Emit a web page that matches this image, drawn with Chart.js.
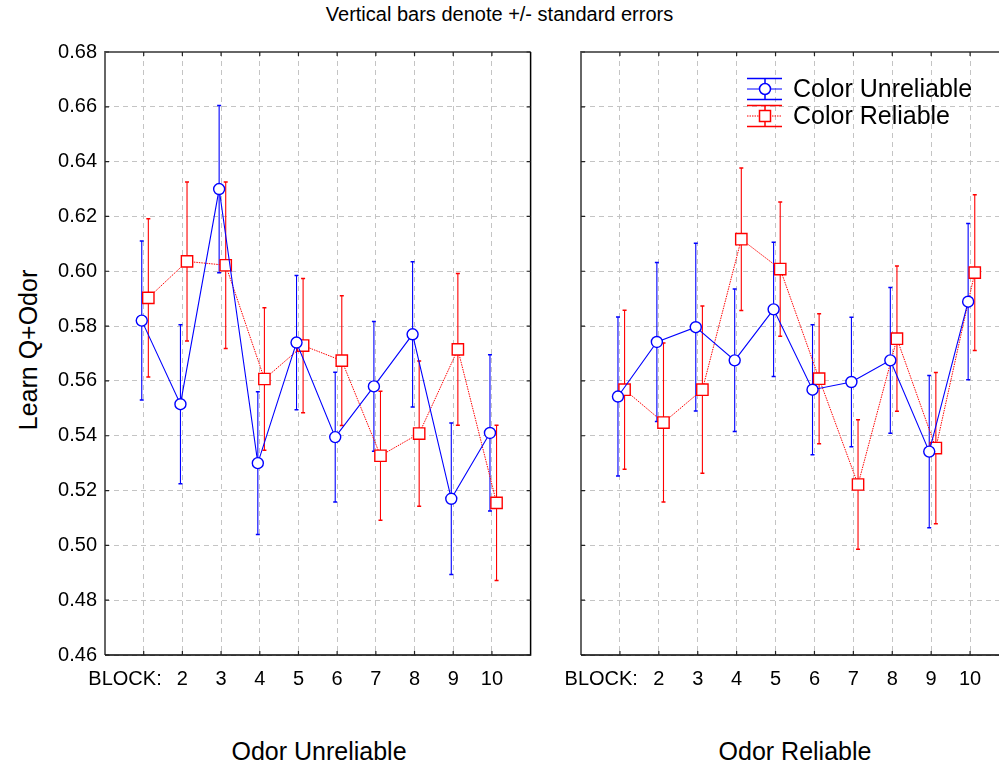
<!DOCTYPE html>
<html lang="en">
<head>
<meta charset="UTF-8">
<title>Learn Q+Odor</title>
<script src="https://cdn.jsdelivr.net/npm/chart.js"></script>
<style>
  body { margin: 0; width: 999px; height: 769px; overflow: hidden; background: #fff; position: relative;
         font-family: "Liberation Sans", Arial, sans-serif; color: #000; }
  canvas { position: absolute; top: 0; }
  #leftChart { left: 0; }
  #rightChart { left: 560px; }
  .txt { position: absolute; white-space: nowrap; }
  #title { left: 0; width: 999px; top: 3px; text-align: center; font-size: 20px; line-height: 23px; }
  #ytitle { left: 28px; top: 350px; font-size: 25px; transform: translate(-50%, -50%) rotate(-90deg); }
  .panel { top: 737px; font-size: 25px; transform: translateX(-50%); }
</style>
</head>
<body>

<div id="title" class="txt">Vertical bars denote +/- standard errors</div>
<div id="ytitle" class="txt">Learn Q+Odor</div>
<div class="txt panel" style="left:319px">Odor Unreliable</div>
<div class="txt panel" style="left:795px">Odor Reliable</div>

<canvas id="leftChart" width="540" height="769"></canvas>
<canvas id="rightChart" width="460" height="769"></canvas>

<script>
// categories and tick labels
var blocks = [1, 2, 3, 4, 5, 6, 7, 8, 9, 10];
var blockLabels = ['BLOCK:', '2', '3', '4', '5', '6', '7', '8', '9', '10'];
var yTicks = [0.46, 0.48, 0.50, 0.52, 0.54, 0.56, 0.58, 0.60, 0.62, 0.64, 0.66, 0.68];
var seriesNames = ['Color Unreliable', 'Color Reliable'];

// Odor Unreliable panel
var odorUnrel_colorUnrel = [0.582, 0.5515, 0.630, 0.530, 0.574, 0.5395, 0.558, 0.577, 0.517, 0.541];
var odorUnrel_colorUnrel_se = [0.029, 0.029, 0.0305, 0.026, 0.0245, 0.0237, 0.0237, 0.0265, 0.0276, 0.0285];
var odorUnrel_colorRel = [0.5903, 0.6036, 0.6022, 0.5607, 0.5729, 0.5674, 0.5327, 0.5408, 0.5715, 0.5155];
var odorUnrel_colorRel_se = [0.0289, 0.029, 0.0304, 0.026, 0.0245, 0.0237, 0.0235, 0.0265, 0.0277, 0.0283];

// Odor Reliable panel
var odorRel_colorUnrel = [0.5543, 0.5742, 0.5796, 0.5675, 0.5861, 0.5568, 0.5596, 0.5675, 0.5342, 0.5889];
var odorRel_colorUnrel_se = [0.029, 0.029, 0.0306, 0.026, 0.0245, 0.0237, 0.0236, 0.0266, 0.0278, 0.0285];
var odorRel_colorRel = [0.5568, 0.5448, 0.5568, 0.6117, 0.6008, 0.5608, 0.5222, 0.5754, 0.5355, 0.5995];
var odorRel_colorRel_se = [0.029, 0.029, 0.0305, 0.026, 0.0245, 0.0237, 0.0236, 0.0265, 0.0276, 0.0284];

var BLUE = '#0000ff';
var RED = '#ff0000';
var FONT = '"Liberation Sans", Arial, sans-serif';

function toPoints(values, shift) {
  return values.map(function (v, i) { return { x: blocks[i] + shift, y: v }; });
}

// error bars, drawn under the lines and markers
var errorBars = {
  id: 'errorBars',
  beforeDatasetsDraw: function (chart) {
    var ctx = chart.ctx;
    var yScale = chart.scales.y;
    chart.data.datasets.forEach(function (ds, di) {
      var meta = chart.getDatasetMeta(di);
      ctx.save();
      ctx.strokeStyle = ds.borderColor;
      meta.data.forEach(function (pt, i) {
        var v = ds.data[i].y, e = ds.errors[i];
        var y1 = yScale.getPixelForValue(v + e);
        var y2 = yScale.getPixelForValue(v - e);
        ctx.lineWidth = 1.1;
        ctx.beginPath();
        ctx.moveTo(pt.x, y1); ctx.lineTo(pt.x, y2);
        ctx.stroke();
        ctx.lineWidth = 1.5;
        ctx.beginPath();
        ctx.moveTo(pt.x - 2, y1); ctx.lineTo(pt.x + 2, y1);
        ctx.moveTo(pt.x - 2, y2); ctx.lineTo(pt.x + 2, y2);
        ctx.stroke();
      });
      ctx.restore();
    });
  }
};

// box around the plot with inward ticks, and the BLOCK: label
var frame = {
  id: 'frame',
  afterDraw: function (chart) {
    var ctx = chart.ctx, a = chart.chartArea;
    var xs = chart.scales.x, ys = chart.scales.y;
    ctx.save();
    ctx.lineWidth = 2;
    ctx.strokeStyle = '#666';
    ctx.beginPath();
    ctx.moveTo(a.left, a.bottom); ctx.lineTo(a.left, a.top); ctx.lineTo(a.right, a.top);
    ctx.stroke();
    ctx.lineWidth = 1.5;
    ctx.strokeStyle = '#000';
    ctx.beginPath();
    ctx.moveTo(a.left, a.bottom); ctx.lineTo(a.right, a.bottom); ctx.lineTo(a.right, a.top);
    ctx.stroke();
    ctx.lineWidth = 1.2;
    ctx.strokeStyle = '#222';
    ctx.beginPath();
    blocks.forEach(function (b) {
      var x = xs.getPixelForValue(b);
      ctx.moveTo(x, a.top); ctx.lineTo(x, a.top + 4);
      ctx.moveTo(x, a.bottom); ctx.lineTo(x, a.bottom - 4);
    });
    yTicks.forEach(function (t) {
      var y = ys.getPixelForValue(t);
      ctx.moveTo(a.left, y); ctx.lineTo(a.left + 4, y);
      ctx.moveTo(a.right, y); ctx.lineTo(a.right - 4, y);
    });
    ctx.stroke();
    ctx.fillStyle = '#000';
    ctx.font = '20px ' + FONT;
    ctx.textAlign = 'right';
    ctx.textBaseline = 'middle';
    ctx.fillText(blockLabels[0], xs.getPixelForValue(1) + 18, a.bottom + 24);
    ctx.restore();
  }
};

// legend with error-bar symbols (right panel only)
var barLegend = {
  id: 'barLegend',
  afterDraw: function (chart) {
    if (!chart.options.plugins.barLegend.show) return;
    var ctx = chart.ctx;
    var x0 = 747 - 560, x1 = 782 - 560, xc = 765 - 560;
    var rows = [{ y: 89, color: BLUE, shape: 'circle' }, { y: 116, color: RED, shape: 'rect' }];
    ctx.save();
    rows.forEach(function (r, i) {
      ctx.strokeStyle = r.color;
      ctx.lineWidth = 1.5;
      ctx.beginPath();
      ctx.moveTo(x0, r.y - 10.5); ctx.lineTo(x1, r.y - 10.5);
      ctx.moveTo(x0, r.y + 10.5); ctx.lineTo(x1, r.y + 10.5);
      ctx.moveTo(xc, r.y - 10.5); ctx.lineTo(xc, r.y + 10.5);
      ctx.stroke();
      ctx.lineWidth = 1;
      if (i === 1) ctx.setLineDash([1.5, 1]);
      ctx.beginPath();
      ctx.moveTo(x0, r.y); ctx.lineTo(x1, r.y);
      ctx.stroke();
      ctx.setLineDash([]);
      ctx.fillStyle = '#fff';
      ctx.lineWidth = 1.5;
      ctx.beginPath();
      if (r.shape === 'circle') ctx.arc(xc, r.y, 5.5, 0, Math.PI * 2);
      else ctx.rect(xc - 5.5, r.y - 5.5, 11, 11);
      ctx.fill(); ctx.stroke();
      ctx.fillStyle = '#000';
      ctx.font = '25px ' + FONT;
      ctx.textAlign = 'left';
      ctx.textBaseline = 'middle';
      ctx.fillText(seriesNames[i], 793 - 560, r.y + 1);
    });
    ctx.restore();
  }
};

function makePanel(id, blueVals, blueSe, redVals, redSe, yWidth, padRight, showY, showLegend) {
  var ctx = document.getElementById(id).getContext('2d');
  return new Chart(ctx, {
    type: 'line',
    data: {
      datasets: [{
        label: seriesNames[0],
        data: toPoints(blueVals, -0.05),
        errors: blueSe,
        borderColor: BLUE,
        borderWidth: 1.1,
        pointStyle: 'circle',
        pointRadius: 5.5,
        pointBorderWidth: 1.4,
        pointBackgroundColor: '#fff',
        pointBorderColor: BLUE
      }, {
        label: seriesNames[1],
        data: toPoints(redVals, 0.12),
        errors: redSe,
        borderColor: RED,
        borderWidth: 1,
        borderDash: [1.5, 1],
        pointStyle: 'rect',
        pointRadius: 8,
        pointBorderWidth: 1.4,
        pointBackgroundColor: '#fff',
        pointBorderColor: RED
      }]
    },
    options: {
      responsive: false,
      animation: false,
      layout: { padding: { top: 52, right: padRight, left: 0, bottom: 0 } },
      plugins: {
        legend: { display: false },
        tooltip: { enabled: false },
        barLegend: { show: showLegend }
      },
      scales: {
        x: {
          type: 'linear',
          min: 0,
          max: 11,
          afterBuildTicks: function (s) { s.ticks = blocks.map(function (b) { return { value: b }; }); },
          afterFit: function (s) { s.height = 114; },
          ticks: {
            autoSkip: false,
            maxRotation: 0,
            padding: 12,
            color: '#000',
            font: { size: 20, family: FONT },
            callback: function (v, i) { return i === 0 ? '' : blockLabels[i]; }
          },
          grid: { color: '#c4c4c4', lineWidth: 1, drawTicks: false },
          border: { display: false, dash: [5, 4] }
        },
        y: {
          min: yTicks[0],
          max: yTicks[yTicks.length - 1],
          afterBuildTicks: function (s) { s.ticks = yTicks.map(function (t) { return { value: t }; }); },
          afterFit: function (s) { s.width = yWidth; },
          ticks: {
            display: showY,
            padding: 8,
            color: '#000',
            font: { size: 20, family: FONT },
            callback: function (v) { return v.toFixed(2); }
          },
          grid: { color: '#c4c4c4', lineWidth: 1, drawTicks: false },
          border: { display: false, dash: [5, 4] }
        }
      }
    },
    plugins: [errorBars, frame, barLegend]
  });
}

makePanel('leftChart', odorUnrel_colorUnrel, odorUnrel_colorUnrel_se, odorUnrel_colorRel, odorUnrel_colorRel_se, 105, 7, true, false);
makePanel('rightChart', odorRel_colorUnrel, odorRel_colorUnrel_se, odorRel_colorRel, odorRel_colorRel_se, 21, 11, false, true);
</script>
</body>
</html>
